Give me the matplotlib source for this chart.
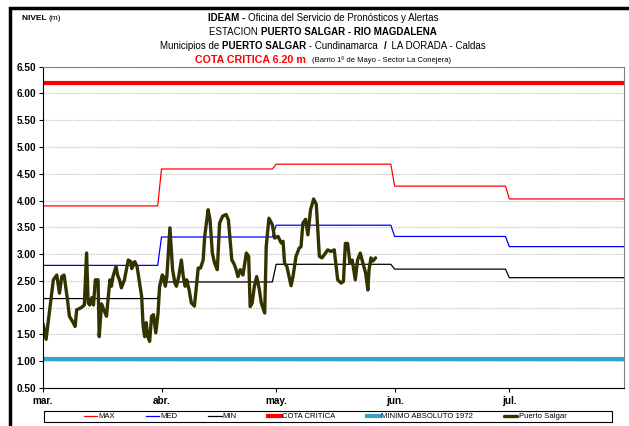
import numpy as np
import matplotlib
matplotlib.use('Agg')
import matplotlib.pyplot as plt
from matplotlib.patches import Rectangle

plt.rcParams['font.family'] = ['Liberation Sans', 'DejaVu Sans']

# month starts (days from 1 March) and tick labels
month_start = [0, 31, 61, 92, 122]
month_len = [31, 30, 31, 30, 31]
month_labels = ['mar.', 'abr.', 'may.', 'jun.', 'jul.']

# monthly historical statistics
level_max = [3.90, 4.59, 4.68, 4.27, 4.03]
level_med = [2.79, 3.32, 3.54, 3.33, 3.14]
level_min = [2.17, 2.48, 2.81, 2.72, 2.56]
cota_critica = 6.20
minimo_1972 = 1.05

# Puerto Salgar observed levels (day since 1 March, metres)
ps_day = [0, 0.8, 2.7, 3.6, 4.3, 4.9, 5.5, 6.4, 6.9, 7.9, 8.4, 8.8, 10.0, 10.8,
          11.4, 11.8, 12.2, 12.8, 13.2, 13.7, 14.4, 14.7, 15.3, 15.9, 16.6, 17.0,
          17.5, 17.9, 18.3, 19.1, 19.5, 20.0, 20.5, 21.3, 22.3, 23.0, 23.2, 23.7,
          24.0, 24.6, 25.8, 26.2, 26.6, 27.0, 27.4, 27.9, 28.4, 28.9, 29.5, 30.1,
          30.5, 31.2, 31.5, 32.0, 32.4, 33.2, 33.9, 34.5, 34.9, 35.5, 36.2, 36.7,
          37.2, 37.6, 38.2, 38.8, 39.6, 40.0, 40.6, 41.2, 41.9, 42.3, 43.2, 43.7,
          44.3, 44.9, 45.6, 46.2, 47.0, 47.9, 48.5, 49.4, 49.9, 50.4, 51.0, 51.6,
          52.3, 53.2, 53.8, 54.2, 54.7, 55.3, 55.9, 56.6, 57.1, 58.0, 58.4, 59.1,
          60.0, 60.6, 61.5, 62.3, 62.8, 63.2, 63.8, 64.9, 65.4, 66.2, 67.0, 67.5,
          68.0, 68.7, 69.3, 70.0, 70.8, 71.5, 72.3, 73.0, 74.5, 75.3, 76.2, 77.1,
          78.0, 78.6, 79.1, 79.7, 80.3, 80.9, 81.7, 82.3, 83.0, 83.7, 84.4, 85.0,
          85.3, 85.8, 86.3, 87.0]
ps_level = [1.70, 1.41, 2.52, 2.61, 2.27, 2.58, 2.61, 2.15, 1.84, 1.72, 1.65, 1.96, 2.00, 2.05,
            3.02, 2.09, 2.05, 2.19, 2.05, 2.52, 2.52, 1.46, 2.07, 1.96, 1.84, 2.15,
            2.52, 2.40, 2.58, 2.77, 2.61, 2.52, 2.37, 2.52, 2.89, 2.86, 2.73, 2.80,
            2.86, 2.77, 2.21, 1.65, 1.46, 1.72, 1.46, 1.37, 1.84, 1.87, 1.53, 1.90,
            2.40, 2.61, 2.58, 2.40, 2.58, 3.49, 2.71, 2.46, 2.40, 2.58, 2.89, 2.58,
            2.40, 2.52, 2.34, 2.09, 2.03, 2.30, 2.74, 2.74, 2.89, 3.33, 3.83, 3.64,
            3.02, 2.83, 2.71, 3.58, 3.71, 3.74, 3.64, 2.89, 2.83, 2.74, 2.58, 2.71,
            2.61, 3.02, 2.96, 2.02, 2.08, 2.40, 2.58, 2.34, 2.09, 1.90, 3.14, 3.67,
            3.55, 3.30, 3.33, 3.21, 3.24, 2.83, 2.77, 2.41, 2.58, 2.96, 3.11, 3.14,
            3.58, 3.65, 3.36, 3.83, 4.03, 3.93, 2.96, 2.93, 3.08, 3.05, 3.08, 2.52,
            2.46, 2.49, 3.20, 3.20, 2.83, 2.89, 2.52, 2.89, 3.02, 2.83, 2.65, 2.33,
            2.71, 2.93, 2.87, 2.93]


def monthly_steps(values):
    xs, ys = [], []
    for s, n, v in zip(month_start, month_len, values):
        xs += [s, s + n - 1]
        ys += [v, v]
    return xs, ys


fig = plt.figure(figsize=(6.29, 4.26), dpi=100)
ax = fig.add_axes([0.0684, 0.0892, 0.9236, 0.7542])

xend = month_start[-1] + month_len[-1] - 1
ax.set_xlim(0, xend)
ax.set_ylim(0.5, 6.5)

yt = np.arange(0.5, 6.51, 0.5)
ax.set_yticks(yt)
ax.set_yticklabels(['%.2f' % v for v in yt], fontweight='bold', fontsize=7.2)
ax.set_xticks(month_start)
ax.set_xticklabels(month_labels, fontweight='bold', fontsize=7.2)
ax.tick_params(axis='both', direction='out', length=3, width=0.8, color='black')
ax.tick_params(axis='x', pad=3)
ax.tick_params(axis='y', pad=2)
ax.yaxis.grid(True, linestyle=(0, (1, 1)), color='#c0c0c0', linewidth=0.9)
ax.set_axisbelow(True)
for side in ['top', 'right']:
    ax.spines[side].set_color('#808080')
ax.spines['left'].set_color('black')
ax.spines['bottom'].set_color('black')

x, y = monthly_steps(level_max)
ax.plot(x, y, color='#ff0000', lw=0.9, label='MAX')
x, y = monthly_steps(level_med)
ax.plot(x, y, color='#0000ff', lw=0.9, label='MED')
x, y = monthly_steps(level_min)
ax.plot(x, y, color='black', lw=0.9, label='MIN')
ax.plot([0, xend], [cota_critica, cota_critica], color='#ff0000', lw=3, label='COTA CRITICA')
ax.plot([0, xend], [minimo_1972, minimo_1972], color='#33a3cc', lw=3, label='MINIMO ABSOLUTO 1972')
ax.plot(ps_day, ps_level, color='#333300', lw=2.4, solid_joinstyle='round',
        solid_capstyle='round', label='Puerto Salgar')

leg = fig.legend(loc='center', bbox_to_anchor=(325 / 629, 1 - 416.5 / 426), ncol=6,
                 frameon=False, fontsize=5.6, handlelength=1.7, handletextpad=0.15,
                 columnspacing=4.0, borderpad=0)
fig.patches.append(Rectangle((44 / 629, 1 - 422 / 426), 568 / 629, 11 / 426,
                             transform=fig.transFigure, fill=False, ec='black', lw=0.8))

# outer black frame
fig.patches.append(Rectangle((10 / 629, -0.1), 1.2, 1.1 - 8 / 426,
                             transform=fig.transFigure, fill=False, ec='black', lw=2.5))

renderer = fig.canvas.get_renderer()


def rich_line(ypix, parts, xc=323, left=None):
    texts = []
    for s, kw in parts:
        texts.append(fig.text(0, 1 - ypix / 426, s, va='center', ha='left', **kw))
    widths = [t.get_window_extent(renderer).width for t in texts]
    x0 = left if left is not None else xc - sum(widths) / 2
    for t, w in zip(texts, widths):
        t.set_x(x0 / 629)
        x0 += w


rich_line(19, [('NIVEL ', dict(fontsize=6, fontweight='bold')),
               ('(m)', dict(fontsize=6))], left=22)
rich_line(18, [('IDEAM - ', dict(fontsize=7, fontweight='bold')),
               ('Oficina del Servicio de Pronósticos y Alertas', dict(fontsize=7))])
rich_line(32, [('ESTACION ', dict(fontsize=7)),
               ('PUERTO SALGAR - RIO MAGDALENA', dict(fontsize=7, fontweight='bold'))])
rich_line(46, [('Municipios de ', dict(fontsize=7)),
               ('PUERTO SALGAR', dict(fontsize=7, fontweight='bold')),
               (' - Cundinamarca  ', dict(fontsize=7)),
               ('/', dict(fontsize=7, fontweight='bold')),
               ('  LA DORADA - Caldas', dict(fontsize=7))])
rich_line(60, [('COTA CRITICA 6.20 m  ', dict(fontsize=7.7, fontweight='bold', color='#ff0000')),
               ('(Barrio 1º de Mayo - Sector La Conejera)', dict(fontsize=5.5))])

fig.savefig('out.png', dpi=100)
